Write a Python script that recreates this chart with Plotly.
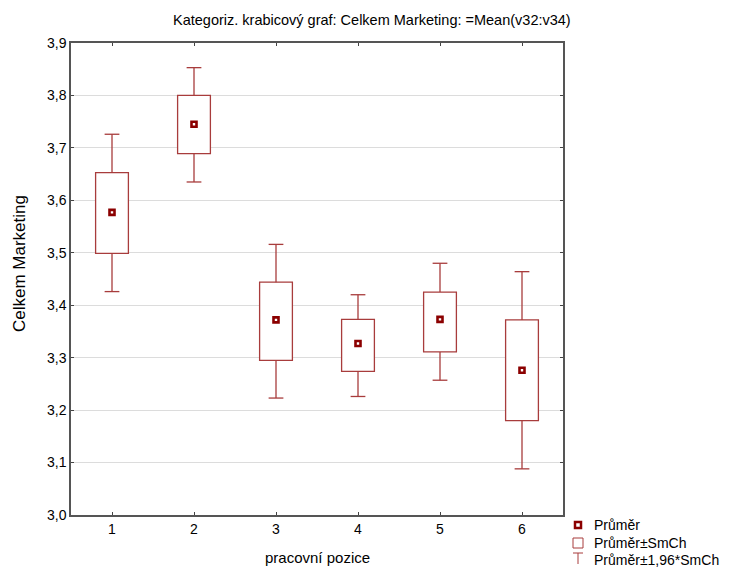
import plotly.graph_objects as go

categories = [1, 2, 3, 4, 5, 6]
means = [3.577, 3.745, 3.372, 3.327, 3.373, 3.276]
se_low = [3.499, 3.689, 3.295, 3.274, 3.311, 3.180]
se_high = [3.653, 3.800, 3.444, 3.373, 3.425, 3.372]
ci_low = [3.426, 3.635, 3.223, 3.226, 3.257, 3.088]
ci_high = [3.726, 3.853, 3.516, 3.420, 3.480, 3.464]
y_ticks = [3.0, 3.1, 3.2, 3.3, 3.4, 3.5, 3.6, 3.7, 3.8, 3.9]
legend_labels = ["Průměr", "Průměr±SmCh", "Průměr±1,96*SmCh"]

RED = "#8b0000"
BOXRED = "#a83c3c"
FONT = "Liberation Sans, Arial, sans-serif"
BOX_W = 0.4
CAP_HALF = 0.09

L, R, T, B = 71, 563, 43, 515  # plot area in page pixels

fig = go.Figure()
# boxes: mean ± SE
fig.add_trace(go.Bar(
    x=categories, y=[h - l for h, l in zip(se_high, se_low)], base=se_low,
    width=BOX_W, marker=dict(color="white", line=dict(color=BOXRED, width=1.3)),
    showlegend=False, hoverinfo="skip",
))
# whiskers: mean ± 1.96*SE, from box edges to caps
wx, wy = [], []
for c, lo, hi, cl, ch in zip(categories, se_low, se_high, ci_low, ci_high):
    wx += [c, c, None, c - CAP_HALF, c + CAP_HALF, None,
           c, c, None, c - CAP_HALF, c + CAP_HALF, None]
    wy += [hi, ch, None, ch, ch, None,
           lo, cl, None, cl, cl, None]
fig.add_trace(go.Scatter(
    x=wx, y=wy, mode="lines", line=dict(color=BOXRED, width=1.3),
    showlegend=False, hoverinfo="skip",
))
# means
fig.add_trace(go.Scatter(
    x=categories, y=means, mode="markers",
    marker=dict(symbol="square", size=5, color="white",
                line=dict(color=RED, width=2.6)),
    showlegend=False,
))

fig.update_layout(
    width=732, height=567,
    margin=dict(l=L, r=732 - R, t=T, b=567 - B),
    paper_bgcolor="white", plot_bgcolor="white",
    separators=", ",
    font=dict(family=FONT, size=14, color="black"),
    title=dict(text="Kategoriz. krabicový graf: Celkem Marketing: =Mean(v32:v34)",
               x=0.508, xanchor="center", y=1 - 20 / 567, yanchor="middle",
               font=dict(size=14.5, family=FONT)),
    showlegend=False,
)
fig.update_xaxes(
    range=[0.5, 6.5], tickvals=categories, ticktext=[str(c) for c in categories],
    ticks="inside", ticklen=3, tickcolor="#444", mirror="ticks",
    showline=True, linecolor="#555", linewidth=1.5, showgrid=False,
    zeroline=False, tickfont=dict(size=14),
)
fig.update_yaxes(
    range=[3.0, 3.9], tickvals=y_ticks, tickformat=".1f",
    ticks="inside", ticklen=3, tickcolor="#444", mirror="ticks",
    showline=True, linecolor="#555", linewidth=1.5,
    showgrid=True, gridcolor="#dcdcdc", gridwidth=1, zeroline=False,
    tickfont=dict(size=14),
)

def px_x(px):
    return (px - L) / (R - L)

def px_y(py):
    return (B - py) / (B - T)

# axis titles
fig.add_annotation(text="pracovní pozice", xref="paper", yref="paper",
                   x=px_x(317), y=px_y(557), xanchor="center", yanchor="middle",
                   showarrow=False, font=dict(size=15, family=FONT))
fig.add_annotation(text="Celkem Marketing", xref="paper", yref="paper",
                   x=px_x(19), y=px_y(264), xanchor="center", yanchor="middle",
                   textangle=-90, showarrow=False, font=dict(size=17, family=FONT))

# legend drawn in the right margin
shapes = [
    dict(type="rect", xref="paper", yref="paper",
         x0=px_x(575), x1=px_x(581), y0=px_y(528), y1=px_y(522),
         fillcolor="white", line=dict(color=RED, width=2.5)),
    dict(type="rect", xref="paper", yref="paper",
         x0=px_x(573), x1=px_x(583), y0=px_y(548), y1=px_y(538),
         fillcolor="white", line=dict(color=BOXRED, width=1)),
    dict(type="line", xref="paper", yref="paper",
         x0=px_x(573), x1=px_x(583), y0=px_y(553), y1=px_y(553),
         line=dict(color=BOXRED, width=1)),
    dict(type="line", xref="paper", yref="paper",
         x0=px_x(578), x1=px_x(578), y0=px_y(553), y1=px_y(564),
         line=dict(color=BOXRED, width=1)),
]
fig.update_layout(shapes=shapes)

legend_y = [525, 543, 560]
for lab, ly in zip(legend_labels, legend_y):
    fig.add_annotation(text=lab, xref="paper", yref="paper",
                       x=px_x(592), y=px_y(ly), xanchor="left", yanchor="middle",
                       showarrow=False, font=dict(size=14, family=FONT))

fig.write_html("out.html", config={"displayModeBar": False},
               post_script="document.body.style.margin='0';")
